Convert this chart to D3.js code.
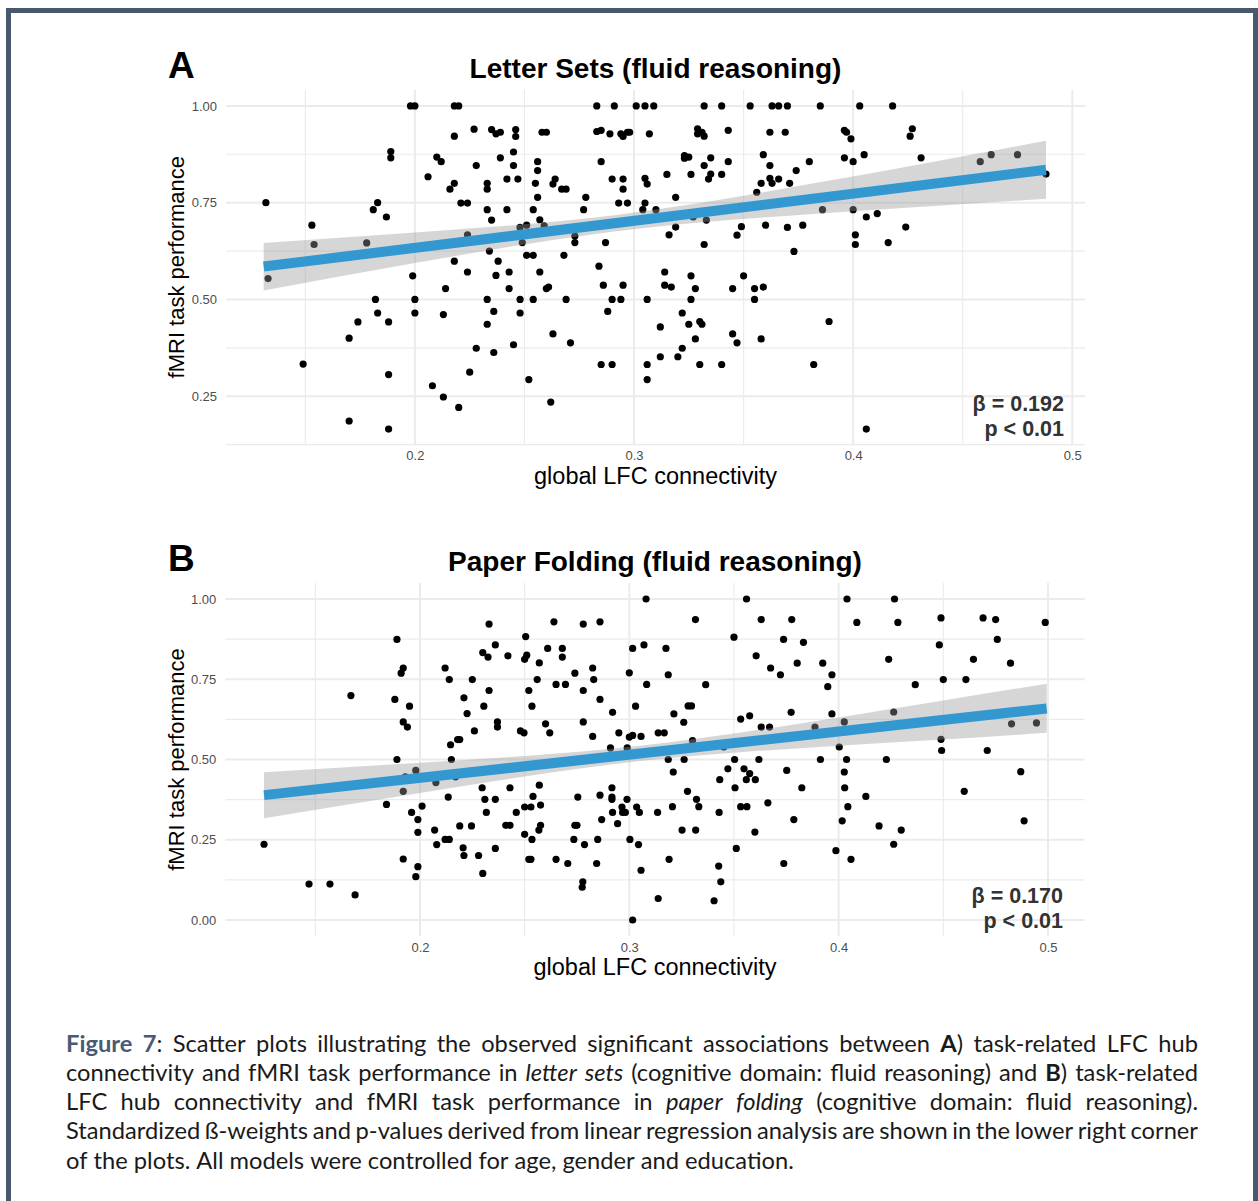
<!DOCTYPE html>
<html><head><meta charset="utf-8">
<script src="https://cdn.jsdelivr.net/npm/d3@7"></script>
<style>body{margin:0;background:#fff}svg{display:block}</style>
</head><body>
<svg id="c" width="1258" height="1201"></svg>
<script>
// ---------------- data ----------------
const xTicks = [0.2, 0.3, 0.4, 0.5];
const xMinorTicks = [0.15, 0.25, 0.35, 0.45];
const yTicksA = [0.25, 0.50, 0.75, 1.00];
const yTicksB = [0.00, 0.25, 0.50, 0.75, 1.00];
const yMinorTicks = [0.125, 0.375, 0.625, 0.875];

const titles = ["Letter Sets (fluid reasoning)", "Paper Folding (fluid reasoning)"];
const panelLetters = ["A", "B"];
const xTitle = "global LFC connectivity";
const yTitle = "fMRI task performance";
const statsA = ["β = 0.192", "p < 0.01"];
const statsB = ["β = 0.170", "p < 0.01"];

const pointsA = [
[0.132,0.750],[0.133,0.554],[0.149,0.333],[0.153,0.692],[0.154,0.642],[0.170,0.186],[0.170,0.400],[0.174,0.442],[0.178,0.646],[0.182,0.500],[0.183,0.465],[0.181,0.732],[0.183,0.750],[0.187,0.713],[0.188,0.442],[0.188,0.306],[0.188,0.165],[0.189,0.882],[0.189,0.866],[0.198,1.000],[0.200,1.000],[0.199,0.561],[0.200,0.500],[0.200,0.465],[0.206,0.817],[0.208,0.277],
[0.218,1.000],[0.220,1.000],[0.218,0.922],[0.210,0.868],[0.212,0.856],[0.227,0.940],[0.235,0.939],[0.237,0.928],[0.239,0.932],[0.246,0.939],[0.246,0.921],[0.258,0.932],[0.260,0.932],[0.283,1.000],[0.291,1.000],[0.301,1.000],[0.305,1.000],[0.283,0.934],[0.285,0.937],[0.289,0.928],[0.294,0.928],[0.295,0.921],[0.297,0.932],[0.298,0.932],[0.307,0.928],
[0.239,0.866],[0.245,0.881],[0.245,0.846],[0.242,0.811],[0.247,0.811],[0.228,0.846],[0.218,0.800],[0.216,0.785],[0.233,0.800],[0.233,0.785],[0.221,0.749],[0.224,0.749],[0.233,0.732],[0.235,0.705],[0.242,0.732],[0.256,0.856],[0.256,0.833],[0.255,0.800],[0.256,0.764],[0.254,0.732],[0.257,0.706],[0.248,0.686],[0.251,0.692],[0.259,0.690],[0.263,0.798],[0.264,0.811],[0.267,0.785],[0.269,0.785],[0.277,0.732],[0.278,0.764],[0.285,0.856],[0.290,0.811],[0.295,0.811],[0.295,0.785],[0.293,0.749],[0.297,0.749],[0.305,0.813],[0.306,0.798],[0.305,0.749],[0.304,0.732],
[0.224,0.667],[0.234,0.625],[0.218,0.599],[0.224,0.571],[0.238,0.599],[0.237,0.562],[0.243,0.571],[0.243,0.528],[0.249,0.647],[0.251,0.614],[0.254,0.614],[0.257,0.571],[0.260,0.528],[0.261,0.532],[0.268,0.614],[0.273,0.664],[0.273,0.647],[0.284,0.586],[0.287,0.647],[0.286,0.537],[0.295,0.537],[0.214,0.528],[0.233,0.500],[0.248,0.500],[0.254,0.500],[0.269,0.500],[0.290,0.500],[0.294,0.500],[0.306,0.500],[0.213,0.461],[0.236,0.469],[0.248,0.465],[0.288,0.469],[0.233,0.436],[0.263,0.411],[0.271,0.388],[0.228,0.374],[0.236,0.363],[0.245,0.383],[0.225,0.312],[0.252,0.293],[0.285,0.332],[0.290,0.332],[0.306,0.332],[0.306,0.293],[0.213,0.248],[0.220,0.221],[0.262,0.235],
[0.309,1.000],[0.332,1.000],[0.340,1.000],[0.353,1.000],[0.363,1.000],[0.366,1.000],[0.370,1.000],[0.385,1.000],[0.403,1.000],[0.329,0.941],[0.331,0.932],[0.332,0.922],[0.329,0.928],[0.343,0.937],[0.362,0.932],[0.369,0.932],[0.396,0.937],[0.397,0.932],[0.399,0.915],
[0.323,0.872],[0.323,0.865],[0.325,0.868],[0.335,0.866],[0.343,0.856],[0.332,0.846],[0.315,0.823],[0.326,0.823],[0.335,0.824],[0.334,0.811],[0.340,0.823],[0.359,0.874],[0.362,0.846],[0.362,0.813],[0.363,0.800],[0.366,0.811],[0.358,0.800],[0.356,0.777],[0.374,0.833],[0.371,0.800],[0.380,0.856],[0.396,0.866],[0.400,0.856],[0.405,0.874],
[0.319,0.764],[0.310,0.732],[0.327,0.713],[0.333,0.705],[0.319,0.687],[0.316,0.667],[0.332,0.642],[0.347,0.666],[0.349,0.688],[0.360,0.692],[0.370,0.686],[0.377,0.692],[0.373,0.624],[0.386,0.732],[0.400,0.732],[0.406,0.713],[0.401,0.667],[0.401,0.642],
[0.314,0.571],[0.314,0.537],[0.317,0.532],[0.326,0.561],[0.328,0.528],[0.326,0.500],[0.322,0.465],[0.325,0.436],[0.330,0.443],[0.331,0.436],[0.328,0.398],[0.322,0.374],[0.320,0.352],[0.312,0.429],[0.312,0.352],[0.330,0.332],[0.340,0.332],[0.345,0.528],[0.350,0.561],[0.355,0.528],[0.359,0.532],[0.355,0.500],[0.345,0.411],[0.347,0.388],[0.358,0.398],[0.389,0.443],[0.382,0.332],[0.406,0.165],
[0.418,1.000],[0.427,0.941],[0.426,0.922],[0.431,0.866],[0.411,0.722],[0.424,0.687],[0.416,0.647],[0.458,0.856],[0.463,0.874],[0.475,0.874],[0.488,0.824]
];

const pointsB = [
[0.1255,0.236],[0.147,0.112],[0.157,0.112],[0.169,0.078],[0.167,0.699],[0.184,0.360],[0.188,0.687],[0.189,0.874],[0.191,0.769],[0.192,0.785],[0.189,0.500],[0.192,0.617],[0.194,0.601],[0.195,0.666],[0.192,0.401],[0.193,0.446],[0.196,0.335],[0.199,0.313],[0.199,0.273],[0.192,0.190],[0.199,0.166],[0.198,0.135],[0.198,0.466],[0.201,0.355],
[0.308,1.000],[0.233,0.922],[0.264,0.929],[0.278,0.922],[0.286,0.929],[0.2505,0.883],[0.236,0.857],[0.230,0.833],[0.2325,0.819],[0.242,0.823],[0.250,0.812],[0.251,0.825],[0.257,0.801],[0.261,0.846],[0.268,0.846],[0.268,0.819],
[0.212,0.785],[0.214,0.749],[0.225,0.749],[0.233,0.715],[0.221,0.692],[0.2225,0.643],[0.2305,0.666],[0.226,0.589],[0.237,0.617],[0.237,0.601],[0.252,0.715],[0.256,0.749],[0.2535,0.666],[0.265,0.734],[0.2695,0.734],[0.274,0.769],[0.2825,0.785],[0.283,0.749],[0.278,0.715],[0.286,0.687],[0.292,0.647],[0.278,0.617],[0.260,0.611],[0.262,0.583],[0.248,0.589],[0.2497,0.583],[0.2825,0.572],[0.295,0.583],[0.300,0.570],[0.3016,0.575],[0.3056,0.572],[0.300,0.770],[0.3016,0.846],[0.307,0.857],[0.3083,0.734],[0.303,0.666],[0.291,0.536],[0.299,0.536],
[0.2146,0.546],[0.215,0.500],[0.218,0.562],[0.219,0.562],[0.2076,0.428],[0.2135,0.383],[0.217,0.446],[0.207,0.280],[0.208,0.235],[0.212,0.251],[0.214,0.251],[0.219,0.293],[0.2246,0.293],[0.2206,0.225],[0.221,0.201],[0.228,0.201],[0.230,0.145],[0.2297,0.412],[0.231,0.376],[0.236,0.376],[0.2317,0.335],[0.236,0.223],[0.243,0.412],[0.241,0.295],[0.243,0.295],[0.246,0.335],[0.250,0.352],[0.253,0.352],[0.254,0.385],[0.257,0.420],[0.2576,0.358],[0.2576,0.295],[0.2568,0.280],[0.250,0.267],[0.2535,0.251],[0.252,0.189],[0.253,0.189],[0.265,0.189],[0.2706,0.176],
[0.2754,0.383],[0.274,0.295],[0.275,0.295],[0.2735,0.251],[0.2786,0.235],[0.2778,0.119],[0.2775,0.102],[0.2844,0.176],[0.2849,0.251],[0.2868,0.313],[0.286,0.389],[0.2917,0.412],[0.2917,0.383],[0.2917,0.376],[0.292,0.335],[0.2944,0.300],[0.2965,0.352],[0.2968,0.335],[0.2981,0.335],[0.2989,0.376],[0.3003,0.251],[0.3035,0.352],[0.3048,0.335],[0.3044,0.235],[0.3056,0.155],[0.3016,0.000],
[0.356,1.000],[0.404,1.000],[0.3316,0.936],[0.363,0.936],[0.3776,0.936],[0.4087,0.927],[0.350,0.881],[0.3737,0.874],[0.3832,0.865],[0.3175,0.846],[0.3606,0.823],[0.3675,0.785],[0.3722,0.764],[0.3802,0.800],[0.3924,0.800],[0.3968,0.764],[0.3948,0.727],[0.3186,0.764],[0.3365,0.733],[0.3281,0.667],[0.3297,0.667],[0.3213,0.642],[0.326,0.616],[0.3138,0.583],[0.3167,0.583],[0.3302,0.559],[0.3451,0.539],[0.3532,0.626],[0.3575,0.636],[0.363,0.601],[0.367,0.601],[0.3773,0.647],[0.3887,0.601],[0.3968,0.642],[0.4027,0.617],[0.4003,0.539],
[0.3186,0.500],[0.3262,0.500],[0.321,0.461],[0.3503,0.500],[0.3471,0.471],[0.3432,0.437],[0.3548,0.471],[0.3575,0.456],[0.3559,0.437],[0.3602,0.437],[0.3619,0.500],[0.3505,0.412],[0.3752,0.466],[0.3824,0.412],[0.3913,0.500],[0.4038,0.500],[0.4027,0.461],[0.4029,0.412],[0.4044,0.353],[0.4017,0.309],[0.413,0.385],[0.3278,0.401],[0.3321,0.376],[0.3332,0.353],[0.3206,0.353],[0.3135,0.335],[0.3252,0.280],[0.3317,0.280],[0.3429,0.335],[0.3532,0.353],[0.3562,0.353],[0.3662,0.365],[0.360,0.274],[0.3786,0.313],[0.3511,0.223],[0.319,0.189],[0.3427,0.168],[0.3437,0.119],[0.3405,0.060],[0.3138,0.067],[0.3738,0.176],[0.3987,0.216],[0.4059,0.189],
[0.4267,1.000],[0.4283,0.927],[0.4489,0.941],[0.469,0.941],[0.475,0.936],[0.4987,0.927],[0.4481,0.857],[0.4758,0.874],[0.4239,0.812],[0.4644,0.812],[0.4821,0.800],[0.450,0.749],[0.4608,0.749],[0.4366,0.733],[0.4263,0.648],[0.4826,0.611],[0.4945,0.614],[0.4489,0.563],[0.4492,0.528],[0.471,0.528],[0.4228,0.500],[0.487,0.462],[0.460,0.401],[0.4193,0.293],[0.4299,0.280],[0.4263,0.236],[0.4886,0.309]
];

// regression fit endpoints and confidence band
const fitA = [[0.131, 0.585], [0.488, 0.835]];
const bandAx  = [0.131, 0.20, 0.25, 0.29, 0.33, 0.38, 0.43, 0.488];
const bandAlo = [0.523, 0.594, 0.642, 0.675, 0.699, 0.720, 0.739, 0.760];
const bandAhi = [0.646, 0.673, 0.694, 0.717, 0.749, 0.798, 0.849, 0.910];

const fitB = [[0.1255, 0.389], [0.4994, 0.659]];
const bandBx  = [0.1255, 0.20, 0.25, 0.305, 0.35, 0.40, 0.45, 0.4994];
const bandBlo = [0.317, 0.396, 0.447, 0.495, 0.521, 0.543, 0.562, 0.583];
const bandBhi = [0.460, 0.490, 0.511, 0.543, 0.581, 0.631, 0.684, 0.736];

const captionLines = [
  "^Figure^ ^7^: Scatter plots illustrating the observed significant associations between *A*) task-related LFC hub",
  "connectivity and fMRI task performance in _letter_ _sets_ (cognitive domain: fluid reasoning) and *B*) task-related",
  "LFC hub connectivity and fMRI task performance in _paper_ _folding_ (cognitive domain: fluid reasoning).",
  "Standardized ß-weights and p-values derived from linear regression analysis are shown in the lower right corner",
  "of the plots. All models were controlled for age, gender and education."
];

// ---------------- drawing ----------------
const svg = d3.select("#c");
const FONT = "'Liberation Sans', Arial, Helvetica, sans-serif";

svg.append("rect").attr("x", 8.5).attr("y", 10.5).attr("width", 1247).attr("height", 1300)
  .attr("fill", "#fff").attr("stroke", "#4a586e").attr("stroke-width", 5);

function drawPanel(cfg) {
  const x = d3.scaleLinear().domain(cfg.xDomain).range([cfg.left, cfg.right]);
  const y = d3.scaleLinear().domain(cfg.yDomain).range([cfg.bottom, cfg.top]);
  const g = svg.append("g");
  const grid = g.append("g").attr("stroke", "#ebebeb").attr("fill", "none");
  grid.selectAll(".vmin").data(xMinorTicks).join("line")
    .attr("x1", d => x(d)).attr("x2", d => x(d)).attr("y1", cfg.top).attr("y2", cfg.bottom).attr("stroke-width", 1.1);
  grid.selectAll(".hmin").data(yMinorTicks).join("line")
    .attr("y1", d => y(d)).attr("y2", d => y(d)).attr("x1", cfg.left).attr("x2", cfg.right).attr("stroke-width", 1.1);
  grid.selectAll(".vmaj").data(xTicks).join("line")
    .attr("x1", d => x(d)).attr("x2", d => x(d)).attr("y1", cfg.top).attr("y2", cfg.bottom).attr("stroke-width", 2);
  grid.selectAll(".hmaj").data(cfg.yTicks).join("line")
    .attr("y1", d => y(d)).attr("y2", d => y(d)).attr("x1", cfg.left).attr("x2", cfg.right).attr("stroke-width", 2);

  g.append("g").selectAll("circle").data(cfg.points).join("circle")
    .attr("cx", d => x(d[0])).attr("cy", d => y(d[1])).attr("r", 3.6).attr("fill", "#000");

  const band = d3.zip(cfg.bandX, cfg.bandLo, cfg.bandHi);
  const area = d3.area().x(d => x(d[0])).y0(d => y(d[1])).y1(d => y(d[2])).curve(d3.curveMonotoneX);
  g.append("path").datum(band).attr("d", area).attr("fill", "#999999").attr("fill-opacity", 0.4);
  g.append("path").datum(cfg.fit)
    .attr("d", d3.line().x(d => x(d[0])).y(d => y(d[1])))
    .attr("fill", "none").attr("stroke", "#3498d0").attr("stroke-width", 10);

  const ax = g.append("g").attr("transform", `translate(0,${cfg.bottom})`)
    .call(d3.axisBottom(x).tickValues(xTicks).tickFormat(d3.format(".1f")).tickSize(0).tickPadding(6.5));
  const ay = g.append("g").attr("transform", `translate(${cfg.left},0)`)
    .call(d3.axisLeft(y).tickValues(cfg.yTicks).tickFormat(d3.format(".2f")).tickSize(0).tickPadding(9));
  [ax, ay].forEach(a => {
    a.select(".domain").remove();
    a.selectAll("text").attr("font-family", FONT).attr("font-size", 13).attr("fill", "#4d4d4d");
  });

  const cx = (cfg.left + cfg.right) / 2;
  g.append("text").attr("x", cx).attr("y", cfg.bottom + 39).attr("text-anchor", "middle")
    .attr("font-family", FONT).attr("font-size", 23.5).attr("fill", "#000").text(xTitle);
  g.append("text").attr("transform", `translate(184,${(cfg.top + cfg.bottom) / 2}) rotate(-90)`)
    .attr("text-anchor", "middle").attr("font-family", FONT).attr("font-size", 22).attr("fill", "#000").text(yTitle);
  g.append("text").attr("x", cx).attr("y", cfg.top - 12).attr("text-anchor", "middle")
    .attr("font-family", FONT).attr("font-weight", "bold").attr("font-size", 28).attr("fill", "#000").text(cfg.title);
  g.append("text").attr("x", 168).attr("y", cfg.top - 12).attr("font-family", FONT)
    .attr("font-weight", "bold").attr("font-size", 37).attr("fill", "#000").text(cfg.letter);
  cfg.stats.forEach((s, i) => {
    g.append("text").attr("x", cfg.statsX).attr("y", cfg.bottom - 33.5 + i * 25).attr("text-anchor", "end")
      .attr("font-family", FONT).attr("font-weight", "bold").attr("font-size", 21.5).attr("fill", "#333").text(s);
  });
}

drawPanel({
  left: 226, right: 1085, top: 89.8, bottom: 444.6,
  xDomain: [0.1138, 0.5058], yDomain: [0.125, 1.0417],
  yTicks: yTicksA, points: pointsA, fit: fitA,
  bandX: bandAx, bandLo: bandAlo, bandHi: bandAhi,
  title: titles[0], letter: panelLetters[0], stats: statsA, statsX: 1064
});
drawPanel({
  left: 225.3, right: 1084.6, top: 582.95, bottom: 936.05,
  xDomain: [0.107, 0.5175], yDomain: [-0.05, 1.05],
  yTicks: yTicksB, points: pointsB, fit: fitB,
  bandX: bandBx, bandLo: bandBlo, bandHi: bandBhi,
  title: titles[1], letter: panelLetters[1], stats: statsB, statsX: 1063
});

// ---------------- caption ----------------
const CAP_FONT = "Lato, 'Open Sans', sans-serif";
const capLeft = 66, capRight = 1198, capBase = 1051.7, capLead = 29.2;
const capG = svg.append("g");

function parseWord(w) {
  const segs = [];
  const re = /\^([^^]+)\^|\*([^*]+)\*|_([^_]+)_|([^^*_]+)/g;
  let m;
  while ((m = re.exec(w))) {
    if (m[1]) segs.push({ t: m[1], s: "fig" });
    else if (m[2]) segs.push({ t: m[2], s: "b" });
    else if (m[3]) segs.push({ t: m[3], s: "i" });
    else segs.push({ t: m[4], s: "n" });
  }
  return segs;
}
function makeWord(parent, w, fs) {
  const t = parent.append("text").attr("font-family", CAP_FONT).attr("font-size", fs).attr("fill", "#1a1a1a");
  parseWord(w).forEach(sg => {
    const ts = t.append("tspan").text(sg.t);
    if (sg.s === "fig") ts.attr("font-weight", "bold").attr("fill", "#4a5a74");
    if (sg.s === "b") ts.attr("font-weight", "bold");
    if (sg.s === "i") ts.attr("font-style", "italic");
  });
  return t;
}
function measureSpace(fs) {
  const a = capG.append("text").attr("font-family", CAP_FONT).attr("font-size", fs).text("nn");
  const b = capG.append("text").attr("font-family", CAP_FONT).attr("font-size", fs)
    .attr("xml:space", "preserve").style("white-space", "pre").text("n n");
  const s = b.node().getComputedTextLength() - a.node().getComputedTextLength();
  a.remove(); b.remove();
  return s;
}
// size the caption font so the last (unjustified) line spans its width in the figure
let fs0 = 22;
{
  const words = captionLines[4].split(" ");
  let tot = 0;
  words.forEach(w => { const t = makeWord(capG, w, fs0); tot += t.node().getComputedTextLength(); t.remove(); });
  tot += measureSpace(fs0) * (words.length - 1);
  fs0 = fs0 * 728 / tot;
}
const sp = measureSpace(fs0);
captionLines.forEach((line, li) => {
  const words = line.split(" ");
  const nodes = words.map(w => makeWord(capG, w, fs0));
  const widths = nodes.map(n => n.node().getComputedTextLength());
  const sum = d3.sum(widths);
  const justify = li < captionLines.length - 1;
  const gap = justify ? (capRight - capLeft - sum) / (words.length - 1) : sp;
  let xx = capLeft;
  nodes.forEach((n, i) => {
    n.attr("x", xx).attr("y", capBase + li * capLead);
    xx += widths[i] + gap;
  });
});
</script>
</body></html>
